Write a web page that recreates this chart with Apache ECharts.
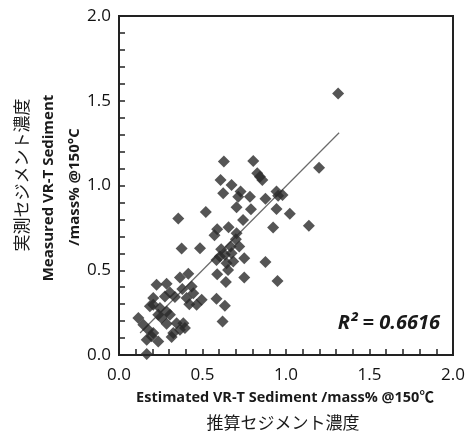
<!DOCTYPE html>
<html><head><meta charset="utf-8">
<script src="https://cdn.jsdelivr.net/npm/echarts@6/dist/echarts.min.js"></script>
<style>html,body{margin:0;padding:0;background:#fff}#c{width:468px;height:434px}</style>
</head><body><div id="c"></div>
<script>
var estimated = [1.312,1.198,1.137,1.023,0.953,0.979,0.943,0.877,0.943,0.923,0.877,0.949,0.804,0.628,0.828,0.844,0.858,0.608,0.674,0.624,0.728,0.714,0.784,0.790,0.704,0.743,0.520,0.355,0.656,0.588,0.572,0.700,0.375,0.485,0.612,0.720,0.584,0.634,0.674,0.644,0.684,0.750,0.668,0.588,0.640,0.750,0.415,0.365,0.225,0.285,0.379,0.435,0.445,0.305,0.335,0.275,0.495,0.465,0.421,0.584,0.634,0.620,0.205,0.245,0.285,0.305,0.255,0.285,0.345,0.385,0.325,0.365,0.395,0.315,0.116,0.146,0.175,0.205,0.166,0.235,0.195,0.166,0.235,0.185,0.405,0.704,0.604,0.653,0.205];
var measured = [1.543,1.105,0.762,0.834,0.940,0.944,0.964,0.922,0.862,0.752,0.548,0.436,1.144,1.142,1.072,1.052,1.032,1.032,1.003,0.954,0.964,0.934,0.934,0.860,0.871,0.797,0.844,0.805,0.754,0.742,0.707,0.683,0.628,0.630,0.624,0.640,0.561,0.591,0.601,0.542,0.552,0.571,0.640,0.477,0.430,0.457,0.479,0.457,0.414,0.420,0.389,0.404,0.365,0.369,0.342,0.345,0.326,0.296,0.300,0.332,0.290,0.198,0.296,0.277,0.257,0.237,0.218,0.184,0.188,0.188,0.130,0.149,0.159,0.106,0.218,0.179,0.149,0.130,0.090,0.080,0.110,0.006,0.237,0.287,0.336,0.718,0.581,0.502,0.336];
var trendX = [0.126, 1.318];
var trendY = [0.130, 1.311];
var xTicks = ['0.0','0.5','1.0','1.5','2.0'];
var yTicks = ['0.0','0.5','1.0','1.5','2.0'];
var r2Label = 'R² = 0.6616';

var pts = estimated.map(function(v,i){return [v, measured[i]];});
var trend = trendX.map(function(v,i){return [v, trendY[i]];});
var font = '"Open Sans", "Noto Sans CJK JP", sans-serif';
var chart = echarts.init(document.getElementById('c'));
function axis(labels, margin){
  return {
    type:'value', min:0, max:2, interval:0.5,
    axisLine:{show:true, onZero:false, lineStyle:{color:'#222', width:2}},
    axisTick:{show:true, inside:true, length:6, lineStyle:{color:'#222', width:1.5}},
    minorTick:{show:true, splitNumber:5, length:6, lineStyle:{color:'#222', width:1.5}},
    splitLine:{show:false},
    axisLabel:{color:'#111', fontSize:17, fontFamily:font, margin:margin,
      formatter:function(v){return labels[Math.round(v/0.5)];}}
  };
}
chart.setOption({
  animation:false,
  grid:{left:119, right:15, top:16, bottom:79, show:true, borderColor:'#222', borderWidth:2},
  xAxis:axis(xTicks, 12), yAxis:axis(yTicks, 8),
  series:[
    {type:'line', data:trend, symbol:'none', lineStyle:{color:'#6a6a6a', width:1.2}, z:1},
    {type:'scatter', data:pts, symbol:'diamond', symbolSize:12, itemStyle:{color:'#2a2a2a'}, z:2}
  ],
  graphic:[
    {type:'text', x:285, y:398, style:{text:'Estimated VR-T Sediment /mass% @150℃', font:'bold 14.5px '+font, fill:'#1a1a1a', align:'center', verticalAlign:'middle'}},
    {type:'text', x:283, y:423, style:{text:'推算セジメント濃度', font:'17px "Noto Sans CJK JP", sans-serif', fill:'#1a1a1a', align:'center', verticalAlign:'middle'}},
    {type:'text', x:22, y:175, rotation:Math.PI/2, style:{text:'実測セジメント濃度', font:'17px "Noto Sans CJK JP", sans-serif', fill:'#1a1a1a', align:'center', verticalAlign:'middle'}},
    {type:'text', x:49, y:188, rotation:Math.PI/2, style:{text:'Measured VR-T Sediment', font:'bold 15px '+font, fill:'#1a1a1a', align:'center', verticalAlign:'middle'}},
    {type:'text', x:75, y:187, rotation:Math.PI/2, style:{text:'/mass% @150°C', font:'bold 15px '+font, fill:'#1a1a1a', align:'center', verticalAlign:'middle'}},
    {type:'text', x:440, y:323, style:{text:r2Label, font:'italic bold 20px '+font, fill:'#1a1a1a', align:'right', verticalAlign:'middle'}}
  ]
});
</script></body></html>
